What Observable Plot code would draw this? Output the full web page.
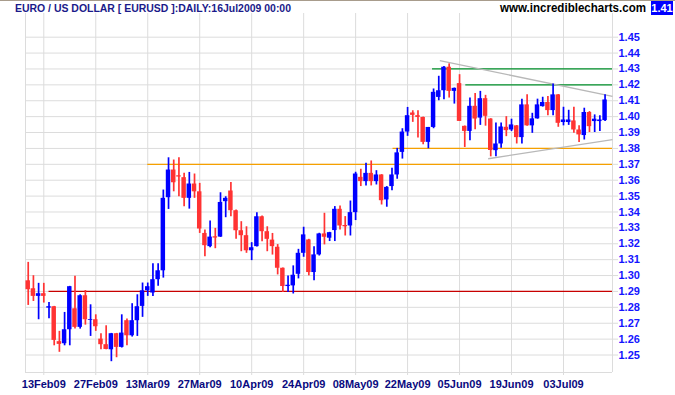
<!DOCTYPE html>
<html><head><meta charset="utf-8">
<script src="https://cdn.jsdelivr.net/npm/d3@7"></script>
<script src="https://cdn.jsdelivr.net/npm/@observablehq/plot@0.6"></script>
<style>
body{margin:0;background:#fff}
#wrap{position:relative;width:675px;height:395px;overflow:hidden;font-family:"Liberation Sans",Arial,sans-serif}
#topline{position:absolute;left:0;top:0;width:675px;height:1px;background:#a89c8c}
.hdr{position:absolute;white-space:nowrap;font-weight:bold;line-height:1}
#title{left:15px;top:3px;font-size:11.5px;color:#1a1a8a;transform-origin:left top}
#www{left:500px;top:1.5px;font-size:12.5px;color:#000;transform-origin:left top}
#last{left:651px;top:1px;width:22px;height:14px;background:#0000ff;color:#fff;font-size:11px;text-align:center;line-height:14px}
</style>
</head><body>
<div id="wrap"><div id="chart"></div><div id="topline"></div>
<div class="hdr" id="title">EURO / US DOLLAR [ EURUSD ]:DAILY:16Jul2009 00:00</div>
<div class="hdr" id="www">www.incrediblecharts.com</div>
<div class="hdr" id="last"></div>
</div>
<script>
// Daily EUR/USD candles, trading-day index 1..112 (10 Feb 2009 .. 15 Jul 2009)
const opens  = [1.2967,1.2917,1.2869,1.2886,1.2795,1.2804,1.2584,1.2571,1.2659,1.2791,
1.2674,1.2873,1.2718,1.2722,1.2600,1.2565,1.2533,1.2634,1.2548,1.2716,
1.2621,1.2716,1.2806,1.2904,1.2890,1.2974,1.3030,1.3490,1.3664,1.3628,
1.3616,1.3486,1.3576,1.3527,1.3265,1.3182,1.3244,1.3242,1.3465,1.3532,
1.3408,1.3282,1.3251,1.3156,1.3182,1.3370,1.3276,1.3223,1.3178,1.3046,
1.2931,1.2935,1.3008,1.3140,1.3224,1.3019,1.3130,1.3262,1.3235,1.3283,
1.3417,1.3315,1.3312,1.3396,1.3618,1.3591,1.3643,1.3591,1.3633,1.3476,
1.3560,1.3633,1.3775,1.3903,1.4023,1.4006,1.3995,1.3838,1.3932,1.4121,
1.4163,1.4311,1.4159,1.4208,1.3939,1.3907,1.4065,1.3991,1.4113,1.3985,
1.3786,1.3828,1.3933,1.3916,1.3942,1.3868,1.4074,1.3942,1.3986,1.4063,
1.4089,1.4038,1.4137,1.3963,1.3963,1.3973,1.3916,1.3881,1.4026,1.3969,
1.3969,1.3975];
const highs  = [1.3083,1.2999,1.2951,1.2951,1.2831,1.2806,1.2649,1.2768,1.2932,1.2995,
1.2879,1.2906,1.2816,1.2753,1.2634,1.2684,1.2636,1.2636,1.2753,1.2726,
1.2823,1.2879,1.2953,1.2953,1.3074,1.3074,1.3538,1.3741,1.3727,1.3741,
1.3643,1.3649,1.3639,1.3580,1.3286,1.3343,1.3297,1.3521,1.3496,1.3586,
1.3412,1.3339,1.3307,1.3207,1.3395,1.3374,1.3307,1.3265,1.3195,1.3048,
1.2998,1.3061,1.3165,1.3304,1.3228,1.3182,1.3266,1.3392,1.3272,1.3434,
1.3438,1.3371,1.3469,1.3650,1.3669,1.3706,1.3721,1.3660,1.3635,1.3560,
1.3675,1.3800,1.3924,1.4058,1.4037,1.4037,1.3997,1.3932,1.4174,1.4254,
1.4315,1.4332,1.4180,1.4264,1.3941,1.4117,1.4145,1.4159,1.4134,1.3987,
1.3960,1.3960,1.4000,1.3984,1.3944,1.4110,1.4137,1.4021,1.4110,1.4122,
1.4126,1.4206,1.4139,1.4059,1.4040,1.4059,1.3942,1.4053,1.4032,1.4011,
1.4005,1.4137];
const lows   = [1.2812,1.2837,1.2722,1.2827,1.2728,1.2558,1.2517,1.2558,1.2558,1.2663,
1.2663,1.2688,1.2617,1.2649,1.2533,1.2533,1.2458,1.2483,1.2544,1.2558,
1.2613,1.2617,1.2737,1.2869,1.2869,1.2932,1.2984,1.3416,1.3527,1.3496,
1.3433,1.3418,1.3486,1.3265,1.3119,1.3175,1.3169,1.3240,1.3364,1.3370,
1.3228,1.3150,1.3140,1.3094,1.3180,1.3213,1.3150,1.3129,1.3004,1.2893,
1.2893,1.2884,1.2979,1.3115,1.2998,1.2968,1.3123,1.3193,1.3214,1.3214,
1.3287,1.3249,1.3249,1.3346,1.3560,1.3564,1.3564,1.3570,1.3444,1.3430,
1.3534,1.3606,1.3733,1.3876,1.3964,1.3865,1.3823,1.3798,1.3924,1.4100,
1.4107,1.4117,1.4079,1.3970,1.3806,1.3848,1.3918,1.3945,1.3940,1.3747,
1.3747,1.3801,1.3874,1.3906,1.3828,1.3828,1.3940,1.3895,1.3984,1.4060,
1.4005,1.4005,1.3933,1.3942,1.3945,1.3895,1.3837,1.3853,1.3900,1.3900,
1.3906,1.3969];
const closes = [1.2911,1.2869,1.2886,1.2869,1.2804,1.2592,1.2567,1.2659,1.2930,1.2674,
1.2873,1.2722,1.2723,1.2678,1.2565,1.2535,1.2634,1.2548,1.2638,1.2621,
1.2716,1.2804,1.2904,1.2930,1.2974,1.3030,1.3486,1.3664,1.3584,1.3620,
1.3486,1.3576,1.3527,1.3293,1.3188,1.3242,1.3236,1.3460,1.3486,1.3408,
1.3282,1.3251,1.3156,1.3175,1.3370,1.3276,1.3228,1.3182,1.3046,1.2931,
1.2939,1.3002,1.3140,1.3256,1.3019,1.3130,1.3262,1.3241,1.3270,1.3417,
1.3312,1.3307,1.3396,1.3639,1.3591,1.3643,1.3591,1.3633,1.3471,1.3555,
1.3633,1.3772,1.3903,1.4006,1.4008,1.3995,1.3838,1.3932,1.4153,1.4163,
1.4311,1.4159,1.4178,1.3970,1.3907,1.4065,1.3985,1.4113,1.4002,1.3787,
1.3828,1.3935,1.3912,1.3948,1.3868,1.4074,1.3942,1.3986,1.4074,1.4089,
1.4038,1.4137,1.3958,1.3979,1.3979,1.3916,1.3885,1.4026,1.3937,1.3984,
1.3979,1.4105];

// x-axis ticks (trading-day index) and their labels
const tickIndex  = [4,14,24,34,44,54,64,74,84,94,104];
const tickLabels = ["13Feb09","27Feb09","13Mar09","27Mar09","10Apr09","24Apr09","08May09","22May09","05Jun09","19Jun09","03Jul09"];
// y-axis ticks
const yTicks = [1.25,1.26,1.27,1.28,1.29,1.30,1.31,1.32,1.33,1.34,1.35,1.36,1.37,1.38,1.39,1.40,1.41,1.42,1.43,1.44,1.45];

// horizontal support / resistance levels (price, first trading-day index)
const levelPrice = [1.29, 1.37, 1.38, 1.42, 1.43];
const levelStart = [5, 24, 71.2, 85.2, 78.8];
const levelKind  = ["red","orange","orange","green","green"];
// trend lines (start index, start price, end index, end price)
const trendX1 = [80.2, 89.5];
const trendY1 = [1.4353, 1.3735];
const trendX2 = [113.43, 113.43];
const trendY2 = [1.4127, 1.3856];

const xDomain = [0.477, 113.43];
const yDomain = [1.2390, 1.4649];

const candles = opens.map((o, k) => ({i: k + 1, open: o, high: highs[k], low: lows[k], close: closes[k]}));
const levels = levelPrice.map((p, k) => ({price: p, start: levelStart[k], kind: levelKind[k]}));
const trends = trendX1.map((x, k) => ({x1: x, y1: trendY1[k], x2: trendX2[k], y2: trendY2[k]}));
const labelOf = new Map(tickIndex.map((t, k) => [t, tickLabels[k]]));

const UP = "#0000ff", DOWN = "#ff3333", GRID = "#dcdcdc";
const levelColor = {red: "#c80000", orange: "#f5a000", green: "#00902a"};

const chart = Plot.plot({
  width: 675, height: 395,
  marginLeft: 25, marginRight: 63, marginTop: 13, marginBottom: 23,
  style: {fontFamily: '"Liberation Sans", Arial, sans-serif', fontSize: "11px", fontWeight: "bold", background: "transparent"},
  x: {type: "linear", domain: xDomain},
  y: {type: "linear", domain: yDomain},
  marks: [
    Plot.ruleY(yTicks, {stroke: GRID, strokeWidth: 1}),
    Plot.ruleX(tickIndex, {stroke: GRID, strokeWidth: 1}),
    Plot.ruleX(xDomain, {stroke: GRID, strokeWidth: 1}),
    Plot.ruleY([yDomain[0]], {stroke: GRID, strokeWidth: 1}),
    Plot.axisY(yTicks, {anchor: "right", tickSize: 5, tickPadding: 1, stroke: GRID, fill: "#1414ff", tickFormat: d3.format(".2f")}),
    Plot.axisX(tickIndex, {anchor: "bottom", tickSize: 3, tickPadding: 4.5, stroke: GRID, fill: "#0a0a80", tickFormat: d => labelOf.get(d)}),
    Plot.ruleY(levels, {y: "price", x1: "start", x2: xDomain[1], stroke: d => levelColor[d.kind], strokeWidth: 1.3}),
    Plot.link(trends, {x1: "x1", y1: "y1", x2: "x2", y2: "y2", stroke: "#b8b8b8", strokeWidth: 1.3}),
    Plot.ruleX(candles, {x: "i", y1: "low", y2: "high", stroke: d => d.close >= d.open ? UP : DOWN, strokeWidth: 1.7}),
    Plot.rect(candles, {
      x1: d => d.i - 0.43, x2: d => d.i + 0.43,
      y1: d => Math.min(d.open, d.close), y2: d => Math.max(d.open, d.close),
      fill: d => d.close >= d.open ? UP : DOWN
    })
  ]
});
document.getElementById("chart").appendChild(chart);
document.getElementById("last").textContent = d3.format(".2f")(closes[closes.length - 1]);
// fit header texts to the reference widths (condensed rendering)
function fitWidth(id, target) {
  const el = document.getElementById(id);
  const w = el.getBoundingClientRect().width;
  if (w > 0) el.style.transform = `scaleX(${target / w})`;
}
fitWidth("title", 276);
fitWidth("www", 146);
</script>
</body></html>
